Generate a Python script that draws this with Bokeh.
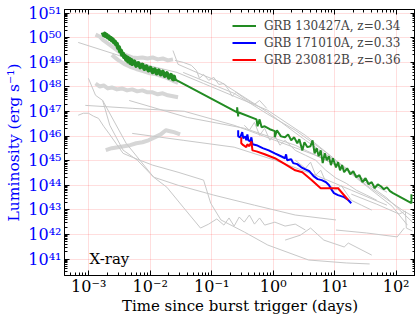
from bokeh.plotting import figure
from bokeh.models import (LogAxis, FixedTicker, CustomJSTickFormatter, Label,
                          Legend, LegendItem, Range1d)
from bokeh.embed import file_html
from bokeh.resources import INLINE

# ---------------- data: log10(time / days), log10(luminosity / erg s^-1) ----------------
# GRB 130427A, z=0.34 (dense early part and later part)
g130427a_logt_dense = [-2.773, -2.757, -2.740, -2.723, -2.707, -2.690, -2.674, -2.657, -2.641, -2.624,
                       -2.608, -2.591, -2.575, -2.558, -2.541, -2.525, -2.508, -2.492, -2.475, -2.459,
                       -2.442, -2.425, -2.409, -2.392, -2.376, -2.359, -2.343, -2.326, -2.309, -2.293,
                       -2.260, -2.227, -2.193, -2.160, -2.127, -2.094, -2.061, -2.028, -1.995, -1.961,
                       -1.928, -1.895, -1.862, -1.829, -1.796, -1.763, -1.729, -1.696, -1.663, -1.630,
                       -1.613, -1.597]
g130427a_logl_dense = [50.22, 50.11, 50.17, 50.06, 50.12, 50.01, 50.06, 49.95, 50.00, 49.89,
                       49.93, 49.81, 49.85, 49.73, 49.75, 49.59, 49.62, 49.45, 49.48, 49.31,
                       49.36, 49.21, 49.26, 49.11, 49.20, 49.04, 49.15, 48.98, 49.10, 48.93,
                       49.04, 48.86, 48.97, 48.80, 48.91, 48.73, 48.84, 48.67, 48.78, 48.60,
                       48.72, 48.55, 48.67, 48.51, 48.62, 48.45, 48.56, 48.38, 48.49, 48.32,
                       48.42, 48.24]
g130427a_logt = [-1.597, -0.586, -0.586, -0.569, -0.569, -0.271, -0.254, -0.221, -0.188, -0.138,
                 -0.055, 0.027, 0.027, 0.061, 0.127, 0.193, 0.243, 0.293, 0.342, 0.392,
                 0.425, 0.475, 0.508, 0.558, 0.607, 0.641, 0.674, 0.707, 0.740, 0.773,
                 0.806, 0.839, 0.873, 0.906, 0.939, 0.972, 1.022, 1.055, 1.088, 1.121,
                 1.154, 1.204, 1.254, 1.303, 1.353, 1.403, 1.453, 1.502, 1.552, 1.602,
                 1.652, 1.701, 1.751, 1.801, 1.851, 1.900, 1.950, 2.249, 2.249]
g130427a_logl = [48.31, 46.97, 47.17, 46.80, 46.97, 46.68, 46.40, 46.68, 46.36, 46.40,
                 46.28, 46.20, 45.95, 46.24, 45.99, 45.95, 46.07, 45.83, 45.95, 45.71,
                 45.87, 45.42, 45.75, 45.55, 45.59, 45.83, 45.30, 45.51, 45.18, 45.42,
                 44.90, 45.30, 45.02, 45.18, 44.82, 45.10, 44.73, 44.94, 44.61, 44.82,
                 44.53, 44.69, 44.45, 44.57, 44.33, 44.41, 44.13, 44.29, 44.04, 44.13,
                 43.88, 44.04, 43.96, 43.84, 43.92, 43.76, 43.68, 43.27, 43.64]

# GRB 171010A, z=0.33
g171010a_logt = [-0.569, -0.569, -0.536, -0.503, -0.486, -0.453, -0.437, -0.420, -0.403, -0.370,
                 -0.354, -0.337, -0.271, -0.171, -0.072, 0.027, 0.127, 0.193, 0.210, 0.226,
                 0.293, 0.326, 0.392, 0.458, 0.525, 0.591, 0.657, 0.723, 0.790, 0.856,
                 0.906, 0.955, 0.989, 1.055, 1.154, 1.221, 1.270]
g171010a_logl = [46.24, 45.99, 45.95, 46.16, 45.91, 45.99, 45.83, 46.07, 45.83, 45.79,
                 45.95, 45.67, 45.63, 45.51, 45.42, 45.30, 45.18, 45.10, 45.26, 45.02,
                 45.06, 44.90, 44.86, 44.73, 44.65, 44.57, 44.37, 44.25, 44.21, 44.13,
                 44.01, 43.80, 43.68, 43.60, 43.52, 43.40, 43.27]

# GRB 230812B, z=0.36
g230812b_logt = [-0.519, -0.519, -0.486, -0.437, -0.420, -0.387, -0.354, -0.337, -0.271, -0.138,
                 0.027, 0.193, 0.359, 0.475, 0.624, 0.773, 0.906, 1.055, 1.221]
g230812b_logl = [45.95, 45.71, 45.63, 45.55, 45.67, 45.59, 45.79, 45.42, 45.38, 45.26,
                 45.10, 44.86, 44.61, 44.53, 44.21, 43.88, 43.88, 43.88, 43.40]

# comparison sample: densely sampled light curves (drawn as broad grey bands)
band_logt = [
    [-2.889, -2.823, -2.757, -2.690, -2.624, -2.558, -2.492, -2.425, -2.359, -2.293,
     -2.210, -2.127, -2.044, -1.961, -1.878, -1.796, -1.713, -1.630],
    [-2.624, -2.525, -2.425, -2.326, -2.227, -2.127, -2.028, -1.928, -1.829, -1.729, -1.630, -1.547],
    [-2.889, -2.823, -2.757, -2.690, -2.624, -2.541, -2.459, -2.376, -2.293, -2.210,
     -2.127, -2.044, -1.961, -1.878, -1.796, -1.713, -1.630, -1.547],
    [-2.723, -2.624, -2.525, -2.425, -2.326, -2.227, -2.127, -2.028, -1.928, -1.829,
     -1.746, -1.679, -1.613, -1.514],
]
band_logl = [
    [50.13, 50.05, 49.89, 49.77, 49.65, 49.53, 49.40, 49.32, 49.26, 49.20,
     49.18, 49.20, 49.16, 49.20, 49.12, 49.16, 49.08, 49.12],
    [49.30, 49.10, 48.94, 48.82, 48.73, 48.65, 48.57, 48.53, 48.45, 48.37, 48.25, 48.17],
    [48.14, 48.02, 48.06, 47.94, 47.98, 47.90, 47.94, 47.86, 47.90, 47.82,
     47.86, 47.78, 47.78, 47.70, 47.74, 47.66, 47.62, 47.58],
    [45.43, 45.51, 45.55, 45.59, 45.63, 45.71, 45.75, 45.83, 45.95, 46.07,
     46.24, 46.20, 46.16, 46.07],
]

# comparison sample: other light curves (thin grey lines)
thin_logt = [
    [-1.597, -1.464, -1.331, -1.248, -1.199, -1.132, -1.049, -0.966, -0.884, -0.801,
     -0.718, -0.668, -0.602, -0.470, -0.304, -0.221, -0.105],
    [-0.470, -0.387, -0.304, -0.221, -0.138, -0.055, 0.027, 0.110, 0.193, 0.359,
     0.525, 0.691, 0.856, 1.022, 1.188, 1.353, 1.519, 1.685],
    [0.359, 0.525, 0.608, 0.691, 0.774, 0.856, 1.022, 1.105, 1.271, 1.437, 1.602],
    [-3.171, -2.607, -1.961, -1.563, -1.132, -0.635, -0.088, 0.525, 1.022, 1.520, 2.100, 2.266],
    [-1.630, -1.547, -1.132, -0.850, -0.088, 0.525, 1.188, 1.851, 2.266],
    [-1.464, -0.635, -0.088, 0.359, 0.856, 1.354, 1.934, 2.183],
    [-3.055, -2.293, -1.447, -0.635, 0.028, 0.691, 1.271, 1.851],
    [-3.005, -2.889, -2.773, -2.657, -2.441, -2.209, -1.944, -1.729, -1.464, -1.182],
    [-1.182, -1.049, -0.917, -0.801, -0.718, -0.635, -0.552, -0.470, -0.387, -0.304,
     -0.221, -0.138, 0.028, 0.194, 0.359, 0.525],
    [-3.171, -3.088, -3.005, -2.922, -2.840, -2.757, -2.674, -2.558, -2.441, -2.292,
     -1.961, -1.547, -1.132, -1.016, -0.850, -0.470, -0.088, 0.575, 1.188, 1.569],
    [-2.773, -2.392, -1.944, -1.547, -0.966, -0.304, 0.359, 1.022],
    [-2.293, -1.464, -0.635, 0.028, 0.691, 1.271, 1.851],
    [1.022, 1.520, 2.017, 2.133],
    [0.194, 0.442, 0.608, 0.824, 1.155, 1.222, 1.603],
    [1.271, 1.685, 2.050, 2.150, 2.166, 2.266],
    [-2.342, -1.397, -0.470, 0.359, 1.022],
]
thin_logl = [
    [49.08, 49.00, 48.88, 48.67, 48.35, 48.51, 48.27, 48.39, 48.10, 48.14,
     47.86, 47.62, 47.78, 47.54, 47.29, 47.45, 47.13],
    [46.44, 46.24, 46.56, 46.03, 46.32, 45.83, 46.03, 45.63, 45.83, 45.42,
     45.22, 45.02, 44.61, 44.29, 44.08, 43.80, 43.60, 43.39],
    [45.02, 44.69, 44.94, 44.41, 44.61, 44.13, 43.80, 44.00, 43.39, 43.19, 42.99],
    [49.81, 49.36, 48.83, 48.59, 48.14, 47.62, 47.05, 46.03, 45.02, 44.00, 42.99, 42.75],
    [49.48, 48.92, 48.47, 48.19, 46.97, 45.83, 44.69, 43.48, 42.50],
    [48.59, 47.74, 46.89, 46.24, 45.34, 44.29, 43.15, 42.38],
    [47.25, 47.13, 47.01, 46.44, 45.83, 45.22, 44.53, 43.72],
    [48.35, 47.66, 47.45, 46.44, 45.43, 45.02, 44.33, 43.92, 43.11, 42.26],
    [42.26, 42.42, 42.63, 42.38, 42.67, 42.34, 42.71, 42.50, 42.79, 42.42,
     42.67, 42.38, 42.50, 42.34, 42.42, 42.18],
    [46.85, 46.93, 46.93, 46.81, 46.72, 46.40, 46.12, 45.71, 45.30, 45.14,
     44.82, 44.53, 44.21, 43.27, 42.59, 42.10, 41.57, 40.96, 40.84, 40.80],
    [47.45, 45.71, 44.33, 44.00, 43.60, 43.19, 42.79, 42.59],
    [46.11, 45.83, 45.55, 45.02, 44.41, 43.80, 43.19],
    [42.18, 42.06, 41.90, 42.26],
    [41.77, 41.97, 42.26, 41.77, 41.49, 41.65, 41.16],
    [43.64, 43.23, 42.83, 42.95, 42.26, 42.14],
    [47.45, 46.76, 46.32, 45.63, 44.82],
]

labels = ["GRB 130427A, z=0.34", "GRB 171010A, z=0.33", "GRB 230812B, z=0.36"]
x_major_exp = [-4, -3, -2, -1, 0, 1, 2, 3]
y_major_exp = list(range(40, 52))

# ---------------- styling ----------------
FONT = "DejaVu Serif"
GREEN, BLUE, RED = "#228B22", "#0000FF", "#FF0000"


def pw(vals):
    return [10.0 ** v for v in vals]


p = figure(width=415, height=319, x_axis_type="log", y_axis_type="log",
           x_range=Range1d(10 ** -3.394, 10 ** 2.315),
           y_range=Range1d(10 ** 40.33, 10 ** 51.15),
           output_backend="svg", toolbar_location=None,
           min_border_left=64, min_border_right=0, min_border_top=9, min_border_bottom=44)
p.outline_line_color = "black"
p.outline_line_width = 1
p.background_fill_color = "white"
p.border_fill_color = "white"

xt = FixedTicker(ticks=[10.0 ** e for e in x_major_exp],
                 minor_ticks=[k * 10.0 ** e for e in x_major_exp for k in range(2, 10)])
yt = FixedTicker(ticks=[10.0 ** e for e in y_major_exp],
                 minor_ticks=[k * 10.0 ** e for e in y_major_exp for k in range(2, 10)])

sup_js = """
const e = Math.round(Math.log10(tick));
const s = {"-":"\u207b","0":"\u2070","1":"\u00b9","2":"\u00b2","3":"\u00b3","4":"\u2074",
           "5":"\u2075","6":"\u2076","7":"\u2077","8":"\u2078","9":"\u2079"};
return "10" + String(e).split("").map(c => s[c]).join("");
"""


def style_axis(ax, ticker, show_labels):
    ax.ticker = ticker
    ax.major_tick_in = 5
    ax.major_tick_out = 0
    ax.minor_tick_in = 3
    ax.minor_tick_out = 0
    ax.axis_line_color = "black"
    ax.major_tick_line_color = "black"
    ax.minor_tick_line_color = "black"
    if show_labels:
        ax.formatter = CustomJSTickFormatter(code=sup_js)
        ax.major_label_text_font = FONT
        ax.major_label_text_font_size = "16px"
    else:
        ax.formatter = CustomJSTickFormatter(code="return '';")
        ax.major_label_text_font_size = "0px"
        ax.major_label_standoff = 0


xa = p.xaxis[0]
ya = p.yaxis[0]
style_axis(xa, xt, True)
style_axis(ya, yt, True)
xa.major_label_standoff = 1
xa.axis_label = "Time since burst trigger (days)"
xa.axis_label_text_font = FONT
xa.axis_label_text_font_size = "15px"
xa.axis_label_text_font_style = "normal"
xa.axis_label_text_color = "black"
xa.axis_label_standoff = -2
xa.major_label_text_color = "black"

ya.major_label_standoff = 3
ya.axis_label = "Luminosity (erg s\u207b\u00b9)"
ya.axis_label_text_font = FONT
ya.axis_label_text_font_size = "15.5px"
ya.axis_label_text_font_style = "normal"
ya.axis_label_text_color = BLUE
ya.major_label_text_color = BLUE
ya.axis_label_standoff = 2

top = LogAxis()
style_axis(top, xt, False)
p.add_layout(top, "above")
right = LogAxis()
style_axis(right, yt, False)
p.add_layout(right, "right")

for g in (p.xgrid[0], p.ygrid[0]):
    g.grid_line_color = "#ff0000"
    g.grid_line_alpha = 0.13
    g.grid_line_width = 1
p.xgrid[0].ticker = xt
p.ygrid[0].ticker = yt

# grey comparison sample
for lt, ll in zip(band_logt, band_logl):
    p.line(pw(lt), pw(ll), line_color="#d6d6d6", line_width=4, line_join="round")
for lt, ll in zip(thin_logt, thin_logl):
    p.line(pw(lt), pw(ll), line_color="#c8c8c8", line_width=1)

# highlighted bursts
p.line(pw(g130427a_logt_dense), pw(g130427a_logl_dense), line_color=GREEN, line_width=4,
       line_join="round")
r_green = p.line(pw(g130427a_logt), pw(g130427a_logl), line_color=GREEN, line_width=2)
r_blue = p.line(pw(g171010a_logt), pw(g171010a_logl), line_color=BLUE, line_width=2)
r_red = p.line(pw(g230812b_logt), pw(g230812b_logl), line_color=RED, line_width=2)

legend = Legend(items=[LegendItem(label=labels[0], renderers=[r_green]),
                       LegendItem(label=labels[1], renderers=[r_blue]),
                       LegendItem(label=labels[2], renderers=[r_red])],
                location=(168, 207), margin=0, padding=4, spacing=0,
                glyph_width=24, glyph_height=17, label_height=17, label_standoff=8,
                label_text_font=FONT, label_text_font_size="12px",
                border_line_color=None, background_fill_alpha=0)
p.add_layout(legend, "center")

p.add_layout(Label(x=1.03e-3, y=1.0e41, text="X-ray", text_font=FONT,
                   text_font_size="15px", text_color="black", text_baseline="alphabetic"))

open("out.html", "w").write(file_html(p, INLINE))
